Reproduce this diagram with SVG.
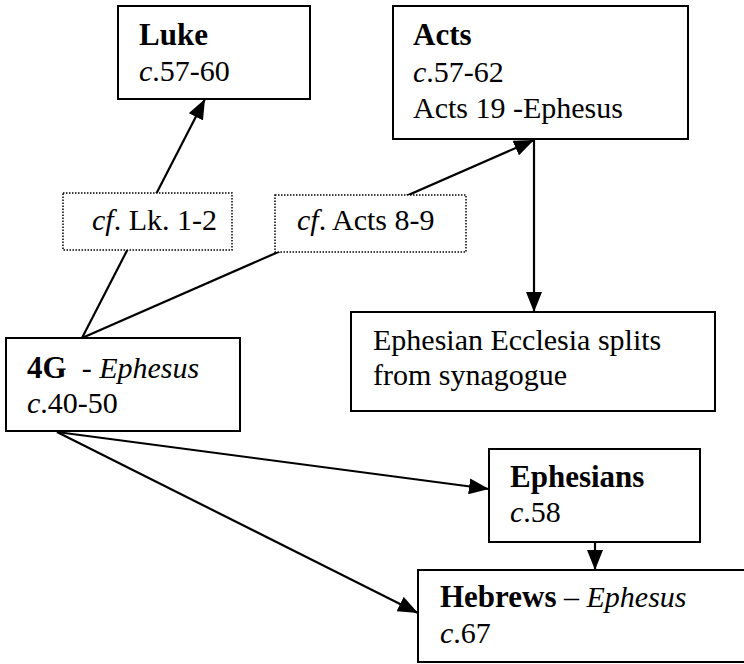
<svg xmlns="http://www.w3.org/2000/svg" width="744" height="664" viewBox="0 0 744 664">
<defs>
<marker id="ah" markerUnits="userSpaceOnUse" markerWidth="20" markerHeight="16" refX="20" refY="8" orient="auto">
<path d="M0,0 L20,8 L0,16 z" fill="#000"/>
</marker>
<style>
.box{fill:#fff;stroke:#000;stroke-width:2}
.dot{fill:#fff;stroke:#000;stroke-width:1.5;stroke-dasharray:1.5 1.5}
.ln{fill:none;stroke:#000;stroke-width:2.2;marker-end:url(#ah)}
text{font-family:"Liberation Serif","Times New Roman",serif;font-size:30px;fill:#000}
.b{font-weight:bold;font-size:31px}
.i{font-style:italic}
</style>
</defs>
<rect width="744" height="664" fill="#fff"/>
<g id="connectors">
<line class="ln" x1="82" y1="338" x2="205" y2="99"/>
<line class="ln" x1="82" y1="338" x2="534" y2="140"/>
<line class="ln" x1="534" y1="140" x2="534" y2="312"/>
<line class="ln" x1="57" y1="432" x2="489" y2="489"/>
<line class="ln" x1="57" y1="432" x2="418" y2="613"/>
<line class="ln" x1="595" y1="542" x2="595" y2="570"/>
</g>
<g id="label-lk">
<rect class="dot" x="63" y="193" width="169" height="57"/>
<text x="92" y="230"><tspan class="i">cf</tspan>. Lk. 1-2</text>
</g>
<g id="label-acts">
<rect class="dot" x="275" y="195" width="191" height="57"/>
<text x="297" y="230"><tspan class="i">cf</tspan>. Acts 8-9</text>
</g>
<g id="luke">
<rect class="box" x="118" y="6" width="192" height="93"/>
<text x="139" y="45" class="b">Luke</text>
<text x="139" y="81"><tspan class="i">c</tspan>.57-60</text>
</g>
<g id="acts">
<rect class="box" x="393" y="6" width="295" height="133"/>
<text x="413" y="45" class="b">Acts</text>
<text x="413" y="82"><tspan class="i">c</tspan>.57-62</text>
<text x="413" y="118">Acts 19 -Ephesus</text>
</g>
<g id="fourG">
<rect class="box" x="6" y="338" width="234" height="93"/>
<text x="27" y="378" xml:space="preserve"><tspan class="b">4G</tspan>  - <tspan class="i">Ephesus</tspan></text>
<text x="27" y="413"><tspan class="i">c</tspan>.40-50</text>
</g>
<g id="ecclesia">
<rect class="box" x="351" y="312" width="364" height="99"/>
<text x="373" y="350">Ephesian Ecclesia splits</text>
<text x="373" y="385">from synagogue</text>
</g>
<g id="ephesians">
<rect class="box" x="489" y="449" width="211" height="93"/>
<text x="510" y="487" class="b">Ephesians</text>
<text x="510" y="522"><tspan class="i">c</tspan>.58</text>
</g>
<g id="hebrews">
<rect class="box" x="418" y="570" width="330" height="92"/>
<text x="440" y="607"><tspan class="b">Hebrews</tspan> – <tspan class="i">Ephesus</tspan></text>
<text x="440" y="643"><tspan class="i">c</tspan>.67</text>
</g>
</svg>
